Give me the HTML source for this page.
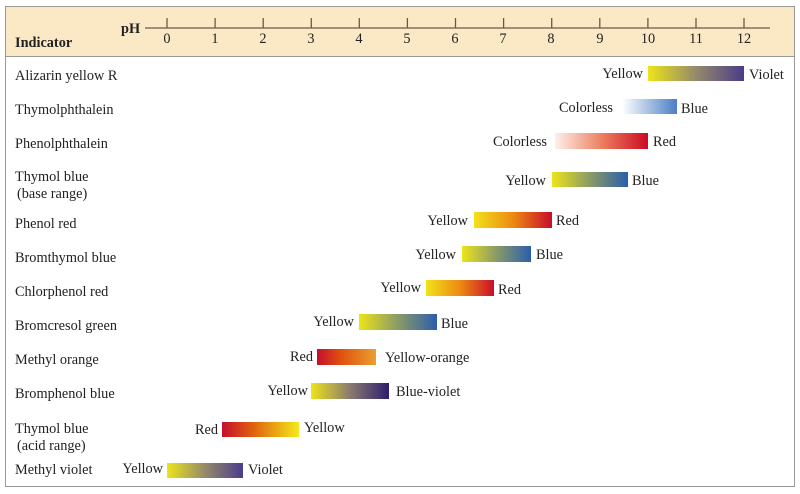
<!DOCTYPE html>
<html><head><meta charset="utf-8"><style>
html,body{margin:0;padding:0;background:#fff;width:800px;height:494px;overflow:hidden}
svg text{font-family:"Liberation Serif",serif;font-size:14.3px;fill:#222}
</style></head><body>
<svg width="800" height="494" viewBox="0 0 800 494" xmlns="http://www.w3.org/2000/svg">
<defs>
<linearGradient id="yv"><stop offset="0" stop-color="#ece41a"/><stop offset="0.5" stop-color="#958a6a"/><stop offset="1" stop-color="#4a3c8a"/></linearGradient>
<linearGradient id="cb"><stop offset="0" stop-color="#ffffff"/><stop offset="1" stop-color="#4a7ec4"/></linearGradient>
<linearGradient id="cr"><stop offset="0" stop-color="#fdf0ea"/><stop offset="0.5" stop-color="#eb8060"/><stop offset="1" stop-color="#cc0a22"/></linearGradient>
<linearGradient id="yb"><stop offset="0" stop-color="#ece41a"/><stop offset="0.5" stop-color="#8a9a66"/><stop offset="1" stop-color="#2a5eac"/></linearGradient>
<linearGradient id="yr"><stop offset="0" stop-color="#f2e21a"/><stop offset="0.5" stop-color="#ec8a12"/><stop offset="1" stop-color="#c80e2a"/></linearGradient>
<linearGradient id="ro"><stop offset="0" stop-color="#c50e2e"/><stop offset="0.4" stop-color="#e0500e"/><stop offset="1" stop-color="#eaa030"/></linearGradient>
<linearGradient id="ybv"><stop offset="0" stop-color="#ece41a"/><stop offset="0.5" stop-color="#8a7a70"/><stop offset="1" stop-color="#2e1e6e"/></linearGradient>
<linearGradient id="ry"><stop offset="0" stop-color="#c50e2e"/><stop offset="0.4" stop-color="#e0600e"/><stop offset="1" stop-color="#f4ea1a"/></linearGradient>
</defs>
<rect x="5.5" y="6.5" width="789" height="480" fill="#fff" stroke="#999"/>
<rect x="6" y="7" width="788" height="49" fill="#fbe9c6"/>
<line x1="6" y1="56.5" x2="794" y2="56.5" stroke="#999"/>
<text x="15" y="47" style="font-weight:bold">Indicator</text>
<text x="121" y="33" style="font-weight:bold">pH</text>
<line x1="145" y1="28" x2="770" y2="28" stroke="#6a5a45" stroke-width="1.3"/>
<g stroke="#6a5a45" stroke-width="1.3">
<line x1="167" y1="18" x2="167" y2="28"/><line x1="215.1" y1="18" x2="215.1" y2="28"/><line x1="263.2" y1="18" x2="263.2" y2="28"/><line x1="311.3" y1="18" x2="311.3" y2="28"/><line x1="359.3" y1="18" x2="359.3" y2="28"/><line x1="407.4" y1="18" x2="407.4" y2="28"/><line x1="455.5" y1="18" x2="455.5" y2="28"/><line x1="503.6" y1="18" x2="503.6" y2="28"/><line x1="551.7" y1="18" x2="551.7" y2="28"/><line x1="599.8" y1="18" x2="599.8" y2="28"/><line x1="647.9" y1="18" x2="647.9" y2="28"/><line x1="696" y1="18" x2="696" y2="28"/><line x1="744" y1="18" x2="744" y2="28"/>
</g>
<g text-anchor="middle">
<text x="167" y="43">0</text><text x="215" y="43">1</text><text x="263" y="43">2</text><text x="311" y="43">3</text><text x="359" y="43">4</text><text x="407" y="43">5</text><text x="455" y="43">6</text><text x="503" y="43">7</text><text x="551" y="43">8</text><text x="600" y="43">9</text><text x="648" y="43">10</text><text x="696" y="43">11</text><text x="744" y="43">12</text>
</g>
<g>
<text x="15" y="80">Alizarin yellow R</text>
<text x="15" y="114">Thymolphthalein</text>
<text x="15" y="148">Phenolphthalein</text>
<text x="15" y="181">Thymol blue</text>
<text x="17" y="198">(base range)</text>
<text x="15" y="228">Phenol red</text>
<text x="15" y="262">Bromthymol blue</text>
<text x="15" y="296">Chlorphenol red</text>
<text x="15" y="330">Bromcresol green</text>
<text x="15" y="364">Methyl orange</text>
<text x="15" y="398">Bromphenol blue</text>
<text x="15" y="433">Thymol blue</text>
<text x="17" y="450">(acid range)</text>
<text x="15" y="474">Methyl violet</text>
</g>
<rect x="648" y="66" width="96" height="15" fill="url(#yv)"/>
<text x="643" y="78" text-anchor="end">Yellow</text><text x="749" y="79">Violet</text>
<rect x="622" y="99" width="55" height="15" fill="url(#cb)"/>
<text x="613" y="112" text-anchor="end">Colorless</text><text x="681" y="113">Blue</text>
<rect x="555" y="133" width="93" height="16" fill="url(#cr)"/>
<text x="547" y="146" text-anchor="end">Colorless</text><text x="653" y="146">Red</text>
<rect x="552" y="172" width="76" height="15" fill="url(#yb)"/>
<text x="546" y="185" text-anchor="end">Yellow</text><text x="632" y="185">Blue</text>
<rect x="474" y="212" width="78" height="16" fill="url(#yr)"/>
<text x="468" y="225" text-anchor="end">Yellow</text><text x="556" y="225">Red</text>
<rect x="462" y="246" width="69" height="16" fill="url(#yb)"/>
<text x="456" y="259" text-anchor="end">Yellow</text><text x="536" y="259">Blue</text>
<rect x="426" y="280" width="68" height="16" fill="url(#yr)"/>
<text x="421" y="292" text-anchor="end">Yellow</text><text x="498" y="294">Red</text>
<rect x="359" y="314" width="78" height="16" fill="url(#yb)"/>
<text x="354" y="326" text-anchor="end">Yellow</text><text x="441" y="328">Blue</text>
<rect x="317" y="349" width="59" height="16" fill="url(#ro)"/>
<text x="313" y="361" text-anchor="end">Red</text><text x="385" y="362">Yellow-orange</text>
<rect x="311" y="383" width="78" height="16" fill="url(#ybv)"/>
<text x="308" y="395" text-anchor="end">Yellow</text><text x="396" y="396">Blue-violet</text>
<rect x="222" y="422" width="77" height="15" fill="url(#ry)"/>
<text x="218" y="434" text-anchor="end">Red</text><text x="304" y="432">Yellow</text>
<rect x="167" y="463" width="76" height="15" fill="url(#yv)"/>
<text x="163" y="473" text-anchor="end">Yellow</text><text x="248" y="474">Violet</text>
</svg>
</body></html>
